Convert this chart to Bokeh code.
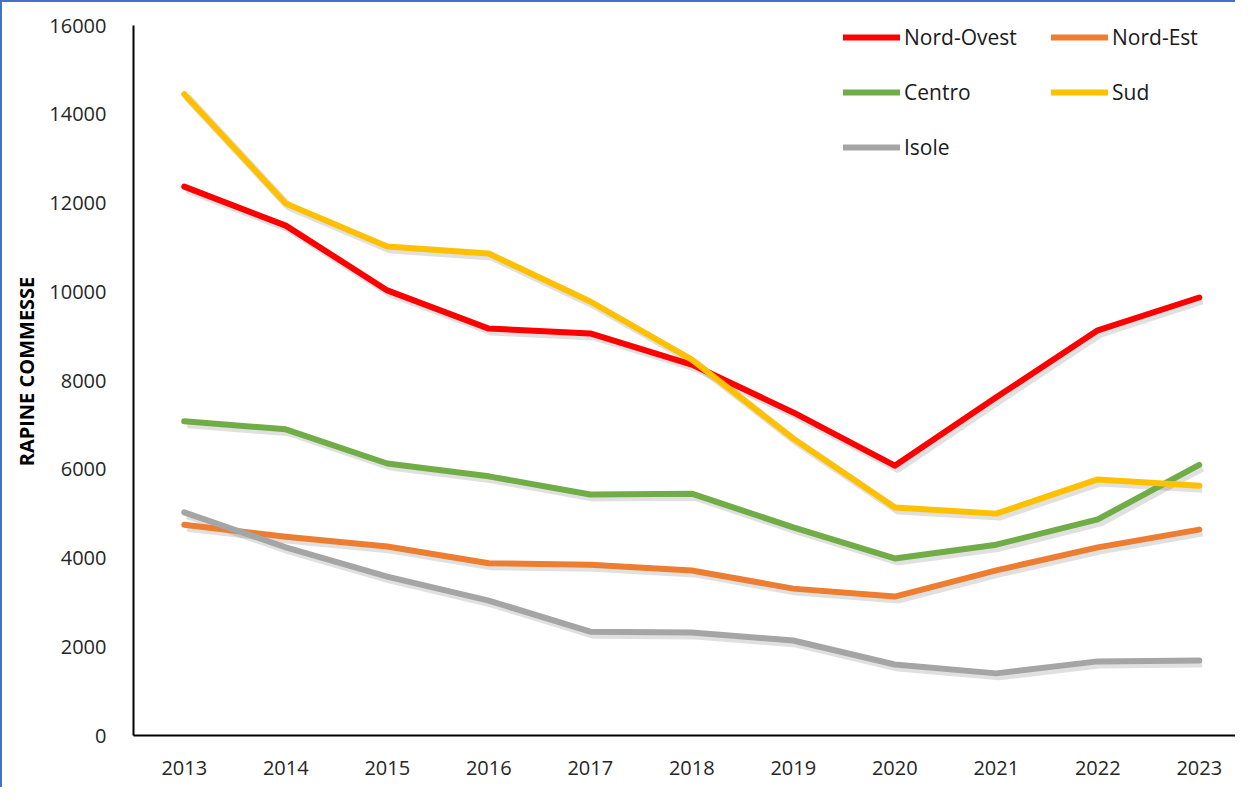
from bokeh.plotting import figure
from bokeh.models import Range1d, FixedTicker, Legend, LegendItem
from bokeh.embed import file_html
from bokeh.resources import INLINE

years = [2013, 2014, 2015, 2016, 2017, 2018, 2019, 2020, 2021, 2022, 2023]
nord_ovest = [12370, 11490, 10030, 9170, 9060, 8360, 7280, 6080, 7620, 9130, 9870]
nord_est = [4750, 4480, 4260, 3880, 3850, 3720, 3310, 3130, 3720, 4240, 4640]
centro = [7080, 6900, 6130, 5840, 5430, 5450, 4690, 3990, 4300, 4870, 6100]
sud = [14450, 11990, 11020, 10860, 9780, 8470, 6690, 5140, 5000, 5770, 5630]
isole = [5030, 4240, 3580, 3040, 2340, 2320, 2140, 1600, 1400, 1670, 1690]

series_names = ["Nord-Ovest", "Nord-Est", "Centro", "Sud", "Isole"]
series_values = [nord_ovest, nord_est, centro, sud, isole]
series_colors = ["#FF0000", "#ED7D31", "#70AD47", "#FFC000", "#A5A5A5"]
y_ticks = [0, 2000, 4000, 6000, 8000, 10000, 12000, 14000, 16000]
y_title = "RAPINE COMMESSE"

FONT = "Open Sans"
W, H = 1235, 787
LEFT, TOP, BOTTOM = 131, 5, 54
px_per_year = 101.5
px_per_unit = 710 / 16000
frame_w = W - LEFT
frame_h = H - TOP - BOTTOM
x0 = years[0] - 0.5
x1 = x0 + frame_w / px_per_year
y_max = y_ticks[-1]
y1 = frame_h / px_per_unit

p = figure(width=W, height=H, output_backend="svg", toolbar_location=None,
           x_range=Range1d(x0, x1), y_range=Range1d(0, y1),
           min_border_left=LEFT, min_border_right=0, min_border_top=TOP,
           min_border_bottom=BOTTOM)
p.styles = {"border-left": "2px solid #4472C4", "border-top": "2px solid #4472C4"}

# shadow ranges (shifted by a few pixels, down-right)
sdx = 3 / px_per_year
sdy = 3 / px_per_unit
p.extra_x_ranges = {"sh": Range1d(x0 - sdx, x1 - sdx)}
p.extra_y_ranges = {"sh": Range1d(0 + sdy, y1 + sdy)}

for vals in series_values:
    p.line(years, vals, line_color="#000000", line_alpha=0.12, line_width=8,
           x_range_name="sh", y_range_name="sh", line_join="round")

items = []
for name, vals, col in zip(series_names, series_values, series_colors):
    r = p.line(years, vals, line_color=col, line_width=6, line_join="round", line_cap="round")
    items.append(LegendItem(label=name, renderers=[r]))

p.xgrid.visible = False
p.ygrid.visible = False
p.outline_line_color = None
p.background_fill_color = "white"
p.border_fill_color = "white"

for ax in (p.xaxis[0], p.yaxis[0]):
    ax.axis_line_color = "#000000"
    ax.axis_line_width = 2
    ax.major_tick_line_color = None
    ax.minor_tick_line_color = None
    ax.major_label_text_font = FONT
    ax.major_label_text_font_size = "20px"
    ax.major_label_text_color = "#262626"

p.xaxis.ticker = FixedTicker(ticks=years)
p.xaxis.major_label_standoff = 19
p.yaxis.ticker = FixedTicker(ticks=y_ticks)
p.yaxis.bounds = (0, y_max)
p.yaxis.major_label_standoff = 21
p.yaxis.axis_label = y_title
p.yaxis.axis_label_text_font = FONT
p.yaxis.axis_label_text_font_style = "bold"
p.yaxis.axis_label_text_font_size = "20px"
p.yaxis.axis_label_text_color = "#000000"
p.yaxis.axis_label_standoff = 6

legend = Legend(items=items, orientation="horizontal", ncols=2,
                location=(710, 574), padding=0, margin=0, spacing=27,
                glyph_width=57, glyph_height=20, label_height=20,
                label_width=120, label_standoff=4,
                label_text_font=FONT, label_text_font_size="21px",
                label_text_color="#1a1a1a", border_line_color=None,
                background_fill_alpha=0)
p.add_layout(legend)

open("out.html", "w").write(file_html(p, INLINE))
